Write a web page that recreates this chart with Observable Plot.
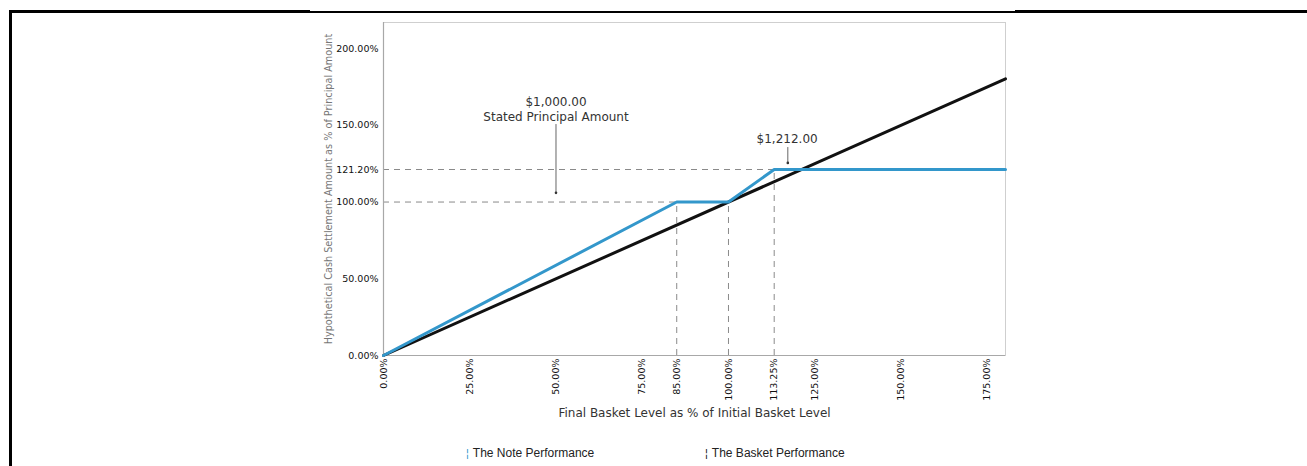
<!DOCTYPE html>
<html>
<head>
<meta charset="utf-8">
<script src="https://cdn.jsdelivr.net/npm/d3@7"></script>
<script src="https://cdn.jsdelivr.net/npm/@observablehq/plot@0.6"></script>
<style>
  html, body { margin: 0; padding: 0; background: #fff; }
  #wrap { position: relative; width: 1307px; height: 466px; overflow: hidden; }
  .bl { position: absolute; background: #000; }
  #chart { position: absolute; left: 0; top: 0; }
  #legend { position: absolute; left: 0; top: 446px; width: 1307px; height: 18px;
            font-family: "Liberation Sans", Arial, sans-serif; font-size: 12px; color: #222; }
  #legend span.item { position: absolute; top: 0; white-space: nowrap; }
  #legend span.sw { display: inline-block; margin-right: 4px; font-size: 11px; }
</style>
</head>
<body>
<div id="wrap">
  <div class="bl" style="left:9px;top:10px;width:301px;height:3px;"></div>
  <div class="bl" style="left:310px;top:11px;width:705px;height:1.5px;"></div>
  <div class="bl" style="left:1015px;top:10px;width:292px;height:3px;"></div>
  <div class="bl" style="left:9px;top:10px;width:2.5px;height:456px;"></div>
  <div id="chart"></div>
  <div id="legend"></div>
</div>
<script>
// ---- data ----
const noteX = [0, 85, 100, 113.25, 180.3];
const noteY = [0, 100, 100, 121.2, 121.2];
const basketX = [0, 180.3];
const basketY = [0, 180.3];
const xTicks = [0, 25, 50, 75, 85, 100, 113.25, 125, 150, 175];
const yTicks = [0, 50, 100, 121.2, 150, 200];
const hRefY = [121.2, 100];
const hRefX2 = [180.3, 100];
const vRefX = [85, 100, 113.25];
const vRefY2 = [100, 100, 121.2];
const annLines = [["$1,000.00", "Stated Principal Amount"], ["$1,212.00"]];
const annTextX = [50, 117];
const annTextY = [161, 142];
const annArrowX = [50, 117.2];
const annArrowY1 = [150.5, 135.5];
const annArrowY2 = [106, 125.5];
const seriesNames = ["The Note Performance", "The Basket Performance"];
const seriesColors = ["#3397cb", "#111111"];

// ---- tables ----
const note = noteX.map((x, i) => ({x, y: noteY[i]}));
const basket = basketX.map((x, i) => ({x, y: basketY[i]}));
const hRefs = hRefY.map((y, i) => ({y, x1: 0, x2: hRefX2[i]}));
const vRefs = vRefX.map((x, i) => ({x, y1: 0, y2: vRefY2[i]}));
const anns = annLines.map((l, i) => ({text: l.join("\n"), x: annTextX[i], y: annTextY[i]}));
const arrows = annArrowX.map((x, i) => ({x, y1: annArrowY1[i], y2: annArrowY2[i]}));
const fmt = d => d.toFixed(2) + "%";

const chart = Plot.plot({
  width: 1307,
  height: 435,
  marginLeft: 383,
  marginRight: 302,
  marginTop: 22,
  marginBottom: 80,
  style: {fontFamily: "'DejaVu Sans', sans-serif", fontSize: "9.5px", background: "transparent"},
  x: {domain: [0, 180.3]},
  y: {domain: [0, 217]},
  marks: [
    Plot.frame({stroke: "#cfcfcf", strokeWidth: 1}),
    Plot.ruleY(hRefs, {y: "y", x1: "x1", x2: "x2", stroke: "#8a8a8a", strokeWidth: 1, strokeDasharray: "6,5"}),
    Plot.ruleX(vRefs, {x: "x", y1: "y1", y2: "y2", stroke: "#8a8a8a", strokeWidth: 1, strokeDasharray: "6,5"}),
    Plot.ruleY([0], {stroke: "#a8a8a8", strokeWidth: 1.2}),
    Plot.ruleX([0], {stroke: "#a8a8a8", strokeWidth: 1.2}),
    Plot.line(basket, {x: "x", y: "y", stroke: seriesColors[1], strokeWidth: 3}),
    Plot.line(note, {x: "x", y: "y", stroke: seriesColors[0], strokeWidth: 3}),
    Plot.ruleX(arrows, {x: "x", y1: "y1", y2: "y2", stroke: "#666", strokeWidth: 1}),
    Plot.dot(arrows, {x: "x", y: "y2", r: 1.3, fill: "#333"}),
    Plot.text(anns, {x: "x", y: "y", text: "text", fontSize: 12, fill: "#333", lineHeight: 1.3, lineAnchor: "middle"}),
    Plot.axisY({ticks: yTicks, tickFormat: fmt, tickSize: 0, tickPadding: 5, fill: "#111",
      label: "Hypothetical Cash Settlement Amount as % of Principal Amount",
      labelAnchor: "center", labelOffset: 58, labelArrow: "none"}),
    Plot.axisX({ticks: xTicks, tickFormat: fmt, tickSize: 0, tickPadding: 3, tickRotate: -90, fill: "#111",
      label: "Final Basket Level as % of Initial Basket Level",
      labelAnchor: "center", labelOffset: 61, labelArrow: "none"})
  ]
});
document.getElementById("chart").appendChild(chart);

// style axis labels
chart.querySelectorAll("g[aria-label='y-axis label'] text").forEach(t => { t.setAttribute("fill", "#777"); t.setAttribute("font-size", "9.7px"); });
chart.querySelectorAll("g[aria-label='x-axis label'] text").forEach(t => { t.setAttribute("fill", "#333"); t.setAttribute("font-size", "12px"); });

// legend
const legend = document.getElementById("legend");
const legendX = [466, 705];
seriesNames.forEach((name, i) => {
  const item = document.createElement("span");
  item.className = "item";
  item.style.left = legendX[i] + "px";
  const sw = document.createElement("span");
  sw.className = "sw";
  sw.style.color = seriesColors[i];
  sw.textContent = "¦";
  item.appendChild(sw);
  item.appendChild(document.createTextNode(name));
  legend.appendChild(item);
});
</script>
</body>
</html>
